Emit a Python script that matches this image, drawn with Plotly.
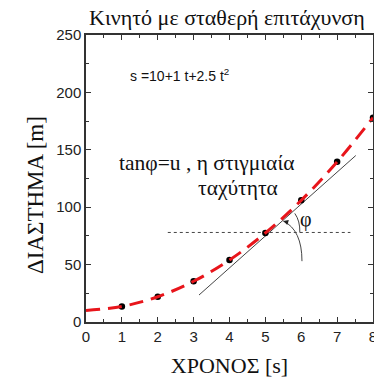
import plotly.graph_objects as go

t_points = [1, 2, 3, 4, 5, 6, 7, 8]
s_points = [13.5, 22, 35.5, 54, 77.5, 106, 139.5, 178]
t_fit = [0, 1, 2, 3, 4, 5, 6, 7, 8]
s_fit = [10, 13.5, 22, 35.5, 54, 77.5, 106, 139.5, 178]
tangent_t = [3.15, 7.52]
tangent_s = [23.5, 145]
horiz_t = [2.28, 7.37]
horiz_s = [78, 78]

SERIF = "Liberation Serif, Times New Roman, serif"
SANS = "Liberation Sans, Arial, sans-serif"

fig = go.Figure()
fig.add_trace(go.Scatter(x=horiz_t, y=horiz_s, mode="lines",
                         line=dict(color="#444", width=1, dash="3px,3px"), hoverinfo="skip"))
fig.add_trace(go.Scatter(x=tangent_t, y=tangent_s, mode="lines",
                         line=dict(color="#444", width=1), hoverinfo="skip"))
fig.add_trace(go.Scatter(x=t_points, y=s_points, mode="markers", cliponaxis=False,
                         marker=dict(color="black", size=6.5)))
fig.add_trace(go.Scatter(x=t_fit, y=s_fit, mode="lines", line_shape="spline",
                         line=dict(color="#e8151b", width=3, dash="14px,8px")))

# arcs
fig.add_shape(type="path", xref="x", yref="y",
              path="M 6.02,53 Q 6.02,80 5.5,88", line=dict(color="#444", width=1))
fig.add_shape(type="path", xref="x", yref="y",
              path="M 5.96,78 Q 5.97,88 5.82,94.6", line=dict(color="#444", width=1))

fig.update_layout(
    width=374, height=380,
    margin=dict(l=86, r=1, t=35, b=58, autoexpand=False),
    plot_bgcolor="white", paper_bgcolor="white",
    showlegend=False,
    xaxis=dict(range=[0, 8], dtick=1, showgrid=False, zeroline=False, automargin=False,
               showline=True, linecolor="#333", linewidth=1.5, mirror="ticks",
               ticks="inside", ticklen=5, tickcolor="#333", ticklabeloverflow="allow",
               minor=dict(dtick=0.5, ticks="inside", ticklen=3, tickcolor="#333"),
               tickfont=dict(family=SANS, size=15, color="#222"),
               title=dict(text="ΧΡΟΝΟΣ [s]", font=dict(family=SERIF, size=22, color="#111"), standoff=14)),
    yaxis=dict(range=[0, 250], dtick=50, showgrid=False, zeroline=False, automargin=False,
               showline=True, linecolor="#333", linewidth=1.5, mirror="ticks",
               ticks="inside", ticklen=5, tickcolor="#333", ticklabeloverflow="allow",
               minor=dict(dtick=25, ticks="inside", ticklen=3, tickcolor="#333"),
               tickfont=dict(family=SANS, size=15, color="#222")),
)

fig.add_annotation(text="ΔΙΑΣΤΗΜΑ [m]", x=0, y=0.4425, xref="paper", yref="paper",
                   textangle=-90, xanchor="center", yanchor="middle", xshift=-51,
                   showarrow=False, font=dict(family=SERIF, size=23, color="#111"))
fig.add_annotation(text="Κινητό με σταθερή επιτάχυνση", x=0.493, y=1, xref="paper", yref="paper",
                   xanchor="center", yanchor="bottom", yshift=3, showarrow=False,
                   font=dict(family=SERIF, size=22, color="#111"))
fig.add_annotation(text="s =10+1 t+2.5 t<sup>2</sup>", x=1.17, y=215, xanchor="left",
                   showarrow=False, font=dict(family=SANS, size=14, color="#111"))
fig.add_annotation(text="tanφ=u , η στιγμιαία", x=3.37, y=138.5, showarrow=False,
                   font=dict(family=SERIF, size=21.5, color="#111"))
fig.add_annotation(text="ταχύτητα", x=4.23, y=116.5, showarrow=False,
                   font=dict(family=SERIF, size=21.5, color="#111"))
fig.add_annotation(text="φ", x=6.12, y=89, showarrow=False,
                   font=dict(family=SERIF, size=20, color="#111"))
# arrowheads
fig.add_annotation(x=5.5, y=88, ax=5.62, ay=86.8, axref="x", ayref="y", text=" ",
                   showarrow=True, arrowhead=2, arrowsize=1, arrowwidth=1, arrowcolor="#222")
fig.add_annotation(x=5.82, y=94.6, ax=5.92, ay=91.5, axref="x", ayref="y", text=" ",
                   showarrow=True, arrowhead=2, arrowsize=1, arrowwidth=1, arrowcolor="#222")

fig.write_html("out.html", config={"displayModeBar": False},
               post_script="document.body.style.margin='0';document.body.style.overflow='hidden';")
